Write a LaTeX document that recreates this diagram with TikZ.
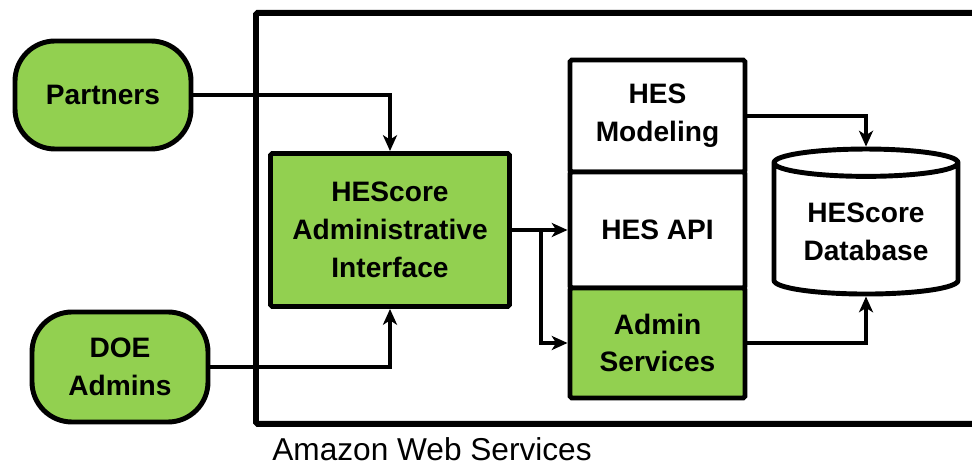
\documentclass[tikz,border=0pt]{standalone}
\usepackage{fontspec}
\setmainfont{Liberation Sans}
\usepackage{tikz}
\usetikzlibrary{shapes,arrows.meta,positioning,calc}
\definecolor{hesgreen}{HTML}{92D050}

\begin{document}
\begin{tikzpicture}[
    actor/.style={rectangle, draw, line width=2.8pt, rounded corners=0.8cm, fill=hesgreen, minimum width=3.52cm, minimum height=2.16cm, align=center, font=\bfseries\fontsize{16}{21.5}\selectfont},
    block/.style={rectangle, draw, line width=2.8pt, rounded corners=1pt, fill=white, minimum width=3.5cm, align=center, font=\bfseries\fontsize{16}{21.5}\selectfont},
    store/.style={cylinder, shape border rotate=90, aspect=0.2, draw, line width=2.8pt, fill=white, minimum width=3.68cm, minimum height=2.9cm, align=center, font=\bfseries\fontsize{16}{21.5}\selectfont},
    arrow/.style={-{Stealth[length=9pt, width=8pt, inset=2.5pt]}, line width=2.6pt}
]
\useasboundingbox (0,0) rectangle (19.44,9.3);

% AWS boundary
\node[draw, line width=3.3pt, rounded corners=1pt, anchor=north west, minimum width=16cm, minimum height=8.22cm] (aws) at (5.06,9.1) {};
\node[anchor=base, font=\fontsize{18}{22}\selectfont] (awslabel) at (8.64,0.1) {Amazon Web Services};

% Users
\node[actor] (partners) at (2.06,7.4) {Partners};
\node[actor, minimum height=2.2cm] (doe) at (2.4,1.96) {DOE\\Admins};

% Services
\node[block, fill=hesgreen, minimum width=4.78cm, minimum height=3.06cm] (adm) at (7.8,4.7) {HEScore\\Administrative\\Interface};
\node[block, minimum height=2.24cm] (model) at (13.15,6.98) {HES\\Modeling};
\node[block, minimum height=2.32cm] (api) at (13.15,4.7) {HES API};
\node[block, fill=hesgreen, minimum height=2.2cm] (svc) at (13.15,2.44) {Admin\\Services};
\node[store] (db) at (17.32,4.66) {HEScore\\Database};

% Connections
\coordinate (split) at (10.82,4.7);
\draw[arrow] (partners.east) -| (adm.north);
\draw[arrow] (doe.east) -| (adm.south);
\draw[arrow] (adm.east) -- (api.west);
\draw[arrow] (split) |- (svc.west);
\draw[arrow] (model.east) -| (db.north);
\draw[arrow] (svc.east) -| (db.south);

\end{tikzpicture}
\end{document}
